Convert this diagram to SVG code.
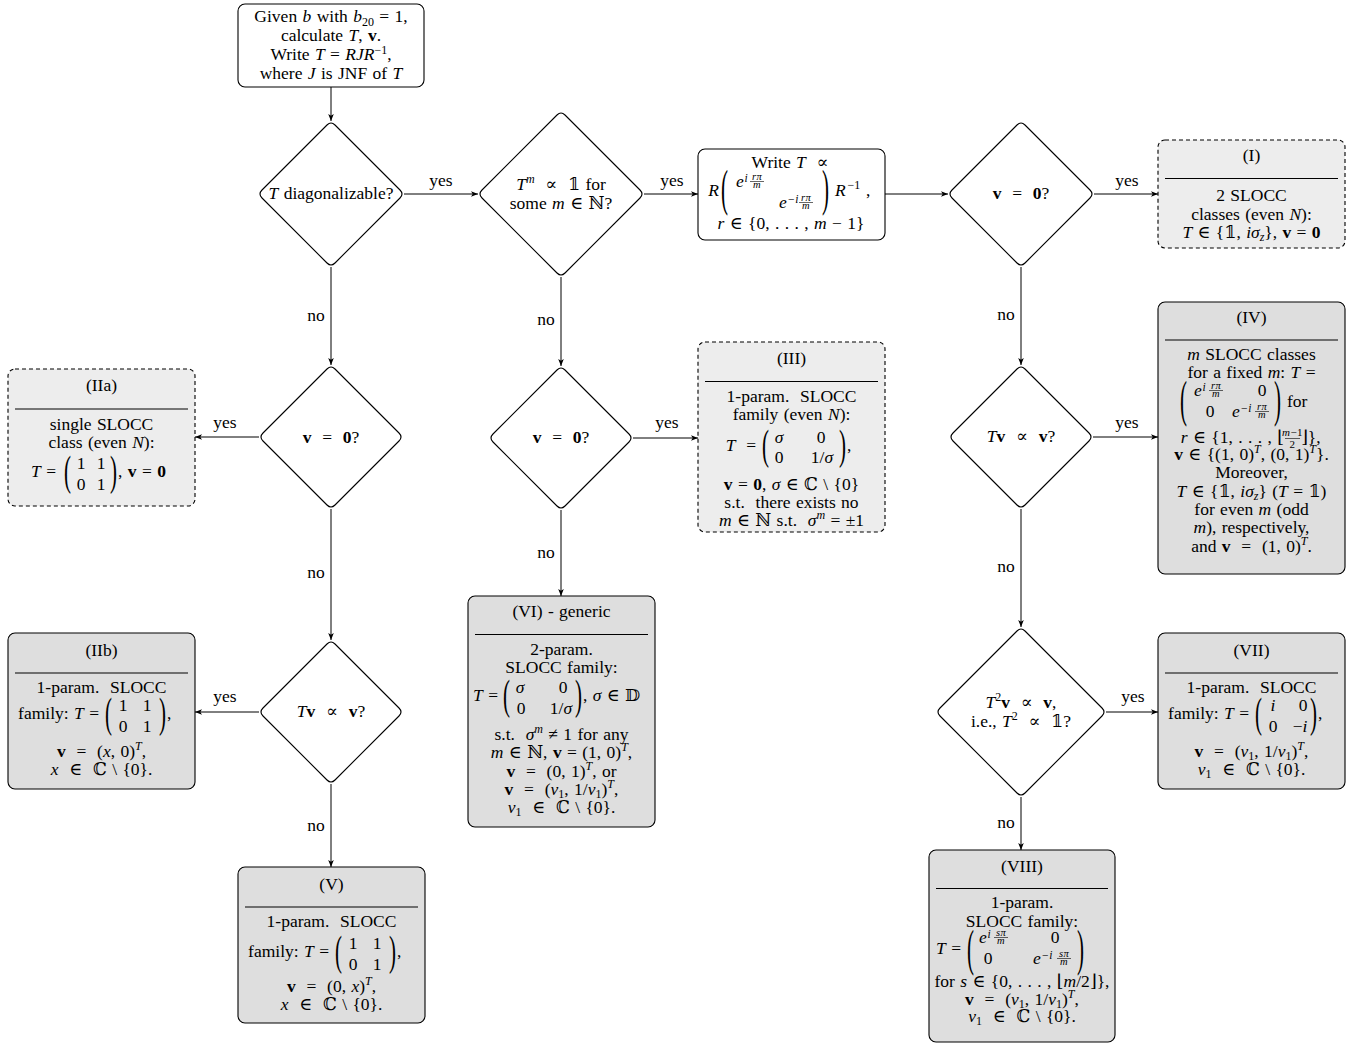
<svg xmlns="http://www.w3.org/2000/svg" width="1363" height="1045" viewBox="0 0 1363 1045">
<style>
text{font-family:"Liberation Serif","DejaVu Serif",serif;font-size:17.5px;word-spacing:1px;fill:#000}
.c{text-anchor:middle}
.e{text-anchor:end}
.i{font-style:italic}
.b{font-weight:bold}
.sm{font-size:12px}
.ss{font-size:11.5px}
.fr{font-size:10.5px;text-anchor:middle;font-style:italic;letter-spacing:0.4px}
.box{stroke:#000;stroke-width:1.1}
.lt{fill:#ededed}
.dk{fill:#dedede}
.wh{fill:#fff}
.dash{stroke-dasharray:4,3}
.rule{stroke:#000;stroke-width:1}
.bar{stroke:#000;stroke-width:0.6}
.dia{fill:#fff;stroke:#000;stroke-width:1.1}
.edge{stroke:#000;stroke-width:1;fill:none;marker-end:url(#ah)}
</style>
<defs>
<marker id="ah" viewBox="0 0 10 10" refX="10" refY="5" markerWidth="7" markerHeight="7" orient="auto" markerUnits="userSpaceOnUse"><path d="M0,1 L10,5 L0,9 L2.5,5 Z" fill="#000"/></marker>
</defs>
<rect width="1363" height="1045" fill="#fff"/>

<g id="connectors">
<path class="edge" d="M331 87 V121"/>
<path class="edge" d="M404 194 H478"/>
<path class="edge" d="M644 194 H698"/>
<path class="edge" d="M885 194 H948"/>
<path class="edge" d="M1094 194 H1158"/>
<path class="edge" d="M331 267 V365"/>
<path class="edge" d="M259 437 H195"/>
<path class="edge" d="M331 509 V640"/>
<path class="edge" d="M259 712 H195"/>
<path class="edge" d="M331 784 V867"/>
<path class="edge" d="M561 277 V366"/>
<path class="edge" d="M633 438 H698"/>
<path class="edge" d="M561 510 V596"/>
<path class="edge" d="M1021 267 V365"/>
<path class="edge" d="M1093 437 H1158"/>
<path class="edge" d="M1021 509 V627"/>
<path class="edge" d="M1106 712 H1158"/>
<path class="edge" d="M1021 797 V850"/>
<text class="c" x="441" y="186">yes</text>
<text class="c" x="672" y="186">yes</text>
<text class="c" x="1127" y="186">yes</text>
<text class="c" x="225" y="428">yes</text>
<text class="c" x="667" y="428">yes</text>
<text class="c" x="1127" y="428">yes</text>
<text class="c" x="225" y="702">yes</text>
<text class="c" x="1133" y="702">yes</text>
<text class="c" x="316" y="321">no</text>
<text class="c" x="316" y="578">no</text>
<text class="c" x="316" y="831">no</text>
<text class="c" x="546" y="325">no</text>
<text class="c" x="546" y="558">no</text>
<text class="c" x="1006" y="320">no</text>
<text class="c" x="1006" y="572">no</text>
<text class="c" x="1006" y="828">no</text>
</g>

<g id="start">
<rect class="box wh" x="238" y="4" width="186" height="83" rx="7"/>
<text class="c" x="331" y="22">Given <tspan class="i">b</tspan> with <tspan class="i">b</tspan><tspan class="sm" dy="4">20</tspan><tspan dy="-4"> = 1,</tspan></text>
<text class="c" x="331" y="41">calculate <tspan class="i">T</tspan>, <tspan class="b">v</tspan>.</text>
<text class="c" x="331" y="60">Write <tspan class="i">T</tspan> = <tspan class="i">RJR</tspan><tspan class="sm" dy="-6">−1</tspan><tspan dy="6">,</tspan></text>
<text class="c" x="331" y="79">where <tspan class="i">J</tspan> is JNF of <tspan class="i">T</tspan></text>
</g>

<g id="d1">
<path class="dia" d="M327 125 Q331 121 335 125 L400 190 Q404 194 400 198 L335 263 Q331 267 327 263 L262 198 Q258 194 262 190 Z"/>
<text class="c" x="331" y="199"><tspan class="i">T</tspan> diagonalizable?</text>
</g>

<g id="d2">
<path class="dia" d="M557 115 Q561 111 565 115 L640 190 Q644 194 640 198 L565 273 Q561 277 557 273 L482 198 Q478 194 482 190 Z"/>
<text class="c" x="561" y="190"><tspan class="i">T</tspan><tspan class="sm i" dy="-7">m</tspan><tspan dy="7">&#160; ∝ &#160;𝟙 for</tspan></text>
<text class="c" x="561" y="209">some <tspan class="i">m</tspan> ∈ ℕ?</text>
</g>

<g id="writeT">
<rect class="box wh" x="698" y="149" width="187" height="91" rx="7"/>
<text class="c" x="790" y="168">Write <tspan class="i">T</tspan>&#160; ∝</text>
<text class="i e" x="719" y="196">R</text>
<text transform="translate(721,204.5) scale(1.2,2.9)">(</text>
<text class="i" x="736" y="187">e</text>
<text class="i ss" x="744.5" y="181.5">i</text>
<text class="fr" x="757" y="179.5">rπ</text>
<line class="bar" x1="750" y1="181.5" x2="764" y2="181.5"/>
<text class="fr" x="757" y="187.5">m</text>
<text class="i" x="779" y="208">e</text>
<text class="i ss" x="787.5" y="202.5">−i</text>
<text class="fr" x="806" y="200.5">rπ</text>
<line class="bar" x1="799" y1="202.5" x2="813" y2="202.5"/>
<text class="fr" x="806" y="208.5">m</text>
<text transform="translate(822,204.5) scale(1.2,2.9)">)</text>
<text class="i" x="835" y="196">R</text>
<text class="sm" x="847.5" y="189">−1</text>
<text x="866" y="196">,</text>
<text class="c" x="791" y="229"><tspan class="i">r</tspan> ∈ {0, . . . , <tspan class="i">m</tspan> − 1}</text>
</g>

<g id="d3">
<path class="dia" d="M1017 125 Q1021 121 1025 125 L1090 190 Q1094 194 1090 198 L1025 263 Q1021 267 1017 263 L952 198 Q948 194 952 190 Z"/>
<text class="c" x="1021" y="199"><tspan class="b">v</tspan>&#160; = &#160;<tspan class="b">0</tspan>?</text>
</g>

<g id="boxI">
<rect class="box lt dash" x="1158" y="140" width="187" height="108" rx="7"/>
<text class="c" x="1251.5" y="161">(I)</text>
<line class="rule" x1="1165" y1="178.5" x2="1338" y2="178.5"/>
<text class="c" x="1251.5" y="201">2 SLOCC</text>
<text class="c" x="1251.5" y="220">classes (even <tspan class="i">N</tspan>):</text>
<text class="c" x="1251.5" y="238"><tspan class="i">T</tspan> ∈ {𝟙, <tspan class="i">iσ</tspan><tspan class="sm i" dy="3">z</tspan><tspan dy="-3">}, </tspan><tspan class="b">v</tspan> = <tspan class="b">0</tspan></text>
</g>

<g id="d4">
<path class="dia" d="M327 369 Q331 365 335 369 L399 433 Q403 437 399 441 L335 505 Q331 509 327 505 L263 441 Q259 437 263 433 Z"/>
<text class="c" x="331" y="443"><tspan class="b">v</tspan>&#160; = &#160;<tspan class="b">0</tspan>?</text>
</g>

<g id="boxIIa">
<rect class="box lt dash" x="8" y="369" width="187" height="137" rx="7"/>
<text class="c" x="101.5" y="391">(IIa)</text>
<line class="rule" x1="15" y1="409" x2="188" y2="409"/>
<text class="c" x="101.5" y="430">single SLOCC</text>
<text class="c" x="101.5" y="448">class (even <tspan class="i">N</tspan>):</text>
<text class="e" x="56" y="477"><tspan class="i">T</tspan> =</text>
<text transform="translate(64,485.2) scale(1.2,2.45)">(</text>
<text class="c" x="81" y="469">1</text>
<text class="c" x="101" y="469">1</text>
<text class="c" x="81" y="489.5">0</text>
<text class="c" x="101" y="489.5">1</text>
<text transform="translate(110,485.2) scale(1.2,2.45)">)</text>
<text x="118" y="477">, <tspan class="b">v</tspan> = <tspan class="b">0</tspan></text>
</g>

<g id="d5">
<path class="dia" d="M327 644 Q331 640 335 644 L399 708 Q403 712 399 716 L335 780 Q331 784 327 780 L263 716 Q259 712 263 708 Z"/>
<text class="c" x="331" y="717"><tspan class="i">T</tspan><tspan class="b">v</tspan>&#160; ∝ &#160;<tspan class="b">v</tspan>?</text>
</g>

<g id="boxIIb">
<rect class="box dk" x="8" y="633" width="187" height="156" rx="7"/>
<text class="c" x="101.5" y="656">(IIb)</text>
<line class="rule" x1="15" y1="673" x2="188" y2="673"/>
<text class="c" x="101.5" y="693">1-param.&#160; SLOCC</text>
<text class="e" x="99" y="719">family: <tspan class="i">T</tspan> =</text>
<text transform="translate(105,727.2) scale(1.2,2.45)">(</text>
<text class="c" x="123" y="711">1</text>
<text class="c" x="147" y="711">1</text>
<text class="c" x="123" y="731.5">0</text>
<text class="c" x="147" y="731.5">1</text>
<text transform="translate(159,727.2) scale(1.2,2.45)">)</text>
<text x="167" y="719">,</text>
<text class="c" x="101.5" y="757"><tspan class="b">v</tspan>&#160; = &#160;(<tspan class="i">x</tspan>, 0)<tspan class="sm i" dy="-7">T</tspan><tspan dy="7">,</tspan></text>
<text class="c" x="101.5" y="775"><tspan class="i">x</tspan>&#160; ∈ &#160;ℂ \ {0}.</text>
</g>

<g id="boxV">
<rect class="box dk" x="238" y="867" width="187" height="156" rx="7"/>
<text class="c" x="331.5" y="890">(V)</text>
<line class="rule" x1="245" y1="907" x2="418" y2="907"/>
<text class="c" x="331.5" y="927">1-param.&#160; SLOCC</text>
<text class="e" x="329" y="957">family: <tspan class="i">T</tspan> =</text>
<text transform="translate(335,965.2) scale(1.2,2.45)">(</text>
<text class="c" x="353" y="949">1</text>
<text class="c" x="377" y="949">1</text>
<text class="c" x="353" y="969.5">0</text>
<text class="c" x="377" y="969.5">1</text>
<text transform="translate(389,965.2) scale(1.2,2.45)">)</text>
<text x="397" y="957">,</text>
<text class="c" x="331.5" y="992"><tspan class="b">v</tspan>&#160; = &#160;(0, <tspan class="i">x</tspan>)<tspan class="sm i" dy="-7">T</tspan><tspan dy="7">,</tspan></text>
<text class="c" x="331.5" y="1010"><tspan class="i">x</tspan>&#160; ∈ &#160;ℂ \ {0}.</text>
</g>

<g id="d6">
<path class="dia" d="M557 370 Q561 366 565 370 L629 434 Q633 438 629 442 L565 506 Q561 510 557 506 L493 442 Q489 438 493 434 Z"/>
<text class="c" x="561" y="443"><tspan class="b">v</tspan>&#160; = &#160;<tspan class="b">0</tspan>?</text>
</g>

<g id="boxIII">
<rect class="box lt dash" x="698" y="342" width="187" height="190" rx="7"/>
<text class="c" x="791.5" y="364">(III)</text>
<line class="rule" x1="705" y1="381.5" x2="878" y2="381.5"/>
<text class="c" x="791.5" y="401.5">1-param.&#160; SLOCC</text>
<text class="c" x="791.5" y="420">family (even <tspan class="i">N</tspan>):</text>
<text class="e" x="756" y="450.5"><tspan class="i">T</tspan>&#160; =</text>
<text transform="translate(762,458.7) scale(1.2,2.45)">(</text>
<text class="c i" x="779" y="442.5">σ</text>
<text class="c" x="821" y="442.5">0</text>
<text class="c" x="779" y="463">0</text>
<text class="c" x="822" y="463">1/<tspan class="i">σ</tspan></text>
<text transform="translate(839,458.7) scale(1.2,2.45)">)</text>
<text x="847" y="450.5">,</text>
<text class="c" x="791.5" y="490"><tspan class="b">v</tspan> = <tspan class="b">0</tspan>, <tspan class="i">σ</tspan> ∈ ℂ \ {0}</text>
<text class="c" x="791.5" y="508">s.t.&#160; there exists no</text>
<text class="c" x="791.5" y="526"><tspan class="i">m</tspan> ∈ ℕ s.t.&#160; <tspan class="i">σ</tspan><tspan class="sm i" dy="-7">m</tspan><tspan dy="7"> = ±1</tspan></text>
</g>

<g id="boxVI">
<rect class="box dk" x="468" y="596" width="187" height="231" rx="7"/>
<text class="c" x="561.5" y="616.5">(VI) - generic</text>
<line class="rule" x1="475" y1="634.5" x2="648" y2="634.5"/>
<text class="c" x="561.5" y="655">2-param.</text>
<text class="c" x="561.5" y="673">SLOCC family:</text>
<text class="e" x="498" y="701"><tspan class="i">T</tspan> =</text>
<text transform="translate(503,709.2) scale(1.2,2.45)">(</text>
<text class="c i" x="520" y="693">σ</text>
<text class="c" x="563" y="693">0</text>
<text class="c" x="521" y="713.5">0</text>
<text class="c" x="561" y="713.5">1/<tspan class="i">σ</tspan></text>
<text transform="translate(575,709.2) scale(1.2,2.45)">)</text>
<text x="583" y="701">, <tspan class="i">σ</tspan> ∈ 𝔻</text>
<text class="c" x="561.5" y="740">s.t.&#160; <tspan class="i">σ</tspan><tspan class="sm i" dy="-7">m</tspan><tspan dy="7"> ≠ 1 for any</tspan></text>
<text class="c" x="561.5" y="758"><tspan class="i">m</tspan> ∈ ℕ, <tspan class="b">v</tspan> = (1, 0)<tspan class="sm i" dy="-7">T</tspan><tspan dy="7">,</tspan></text>
<text class="c" x="561.5" y="777"><tspan class="b">v</tspan>&#160; = &#160;(0, 1)<tspan class="sm i" dy="-7">T</tspan><tspan dy="7">, or</tspan></text>
<text class="c" x="561.5" y="795"><tspan class="b">v</tspan>&#160; = &#160;(<tspan class="i">v</tspan><tspan class="sm" dy="3">1</tspan><tspan dy="-3">, 1/</tspan><tspan class="i">v</tspan><tspan class="sm" dy="3">1</tspan><tspan dy="-3">)</tspan><tspan class="sm i" dy="-7">T</tspan><tspan dy="7">,</tspan></text>
<text class="c" x="561.5" y="813"><tspan class="i">v</tspan><tspan class="sm" dy="3">1</tspan><tspan dy="-3">&#160; ∈ &#160;ℂ \ {0}.</tspan></text>
</g>

<g id="d7">
<path class="dia" d="M1017 369 Q1021 365 1025 369 L1089 433 Q1093 437 1089 441 L1025 505 Q1021 509 1017 505 L953 441 Q949 437 953 433 Z"/>
<text class="c" x="1021" y="442"><tspan class="i">T</tspan><tspan class="b">v</tspan>&#160; ∝ &#160;<tspan class="b">v</tspan>?</text>
</g>

<g id="boxIV">
<rect class="box dk" x="1158" y="302" width="187" height="272" rx="7"/>
<text class="c" x="1251.5" y="323">(IV)</text>
<line class="rule" x1="1165" y1="340" x2="1338" y2="340"/>
<text class="c" x="1251.5" y="360"><tspan class="i">m</tspan> SLOCC classes</text>
<text class="c" x="1251.5" y="378">for a fixed <tspan class="i">m</tspan>: <tspan class="i">T</tspan> =</text>
<text transform="translate(1180,415.5) scale(1.2,2.9)">(</text>
<text class="i" x="1194" y="396">e</text>
<text class="i ss" x="1202.5" y="390.5">i</text>
<text class="fr" x="1216" y="388.5">rπ</text>
<line class="bar" x1="1209" y1="390.5" x2="1223" y2="390.5"/>
<text class="fr" x="1216" y="396.5">m</text>
<text class="c" x="1262" y="396">0</text>
<text class="c" x="1210" y="417">0</text>
<text class="i" x="1232" y="417">e</text>
<text class="i ss" x="1240.5" y="411.5">−i</text>
<text class="fr" x="1262" y="409.5">rπ</text>
<line class="bar" x1="1255" y1="411.5" x2="1269" y2="411.5"/>
<text class="fr" x="1262" y="417.5">m</text>
<text transform="translate(1274,415.5) scale(1.2,2.9)">)</text>
<text x="1287" y="407">for</text>
<text class="e" x="1284" y="443"><tspan class="i">r</tspan> ∈ {1, . . . , ⌊</text>
<text class="fr" x="1292.5" y="436" style="font-size:11px"><tspan class="i">m</tspan><tspan style="font-style:normal">−1</tspan></text>
<line class="bar" x1="1285" y1="438.5" x2="1300" y2="438.5"/>
<text class="fr" x="1292.5" y="447.5" style="font-size:11px;font-style:normal">2</text>
<text x="1301" y="443">⌋},</text>
<text class="c" x="1251.5" y="460"><tspan class="b">v</tspan> ∈ {(1, 0)<tspan class="sm i" dy="-7">T</tspan><tspan dy="7">, (0, 1)</tspan><tspan class="sm i" dy="-7">T</tspan><tspan dy="7">}.</tspan></text>
<text class="c" x="1251.5" y="478">Moreover,</text>
<text class="c" x="1251.5" y="497"><tspan class="i">T</tspan> ∈ {𝟙, <tspan class="i">iσ</tspan><tspan class="sm i" dy="3">z</tspan><tspan dy="-3">} (</tspan><tspan class="i">T</tspan> = 𝟙)</text>
<text class="c" x="1251.5" y="515">for even <tspan class="i">m</tspan> (odd</text>
<text class="c" x="1251.5" y="533"><tspan class="i">m</tspan>), respectively,</text>
<text class="c" x="1251.5" y="552">and <tspan class="b">v</tspan>&#160; = &#160;(1, 0)<tspan class="sm i" dy="-7">T</tspan><tspan dy="7">.</tspan></text>
</g>

<g id="d8">
<path class="dia" d="M1017 631 Q1021 627 1025 631 L1102 708 Q1106 712 1102 716 L1025 793 Q1021 797 1017 793 L940 716 Q936 712 940 708 Z"/>
<text class="c" x="1021" y="708"><tspan class="i">T</tspan><tspan class="sm" dy="-7">2</tspan><tspan class="b" dy="7">v</tspan>&#160; ∝ &#160;<tspan class="b">v</tspan>,</text>
<text class="c" x="1021" y="727">i.e., <tspan class="i">T</tspan><tspan class="sm" dy="-7">2</tspan><tspan dy="7">&#160; ∝ &#160;𝟙?</tspan></text>
</g>

<g id="boxVII">
<rect class="box dk" x="1158" y="633" width="187" height="156" rx="7"/>
<text class="c" x="1251.5" y="656">(VII)</text>
<line class="rule" x1="1165" y1="673" x2="1338" y2="673"/>
<text class="c" x="1251.5" y="693">1-param.&#160; SLOCC</text>
<text class="e" x="1249" y="719">family: <tspan class="i">T</tspan> =</text>
<text transform="translate(1255,727.2) scale(1.2,2.45)">(</text>
<text class="c i" x="1273" y="711">i</text>
<text class="c" x="1303" y="711">0</text>
<text class="c" x="1273" y="731.5">0</text>
<text class="c" x="1300" y="731.5">−<tspan class="i">i</tspan></text>
<text transform="translate(1310,727.2) scale(1.2,2.45)">)</text>
<text x="1318" y="719">,</text>
<text class="c" x="1251.5" y="757"><tspan class="b">v</tspan>&#160; = &#160;(<tspan class="i">v</tspan><tspan class="sm" dy="3">1</tspan><tspan dy="-3">, 1/</tspan><tspan class="i">v</tspan><tspan class="sm" dy="3">1</tspan><tspan dy="-3">)</tspan><tspan class="sm i" dy="-7">T</tspan><tspan dy="7">,</tspan></text>
<text class="c" x="1251.5" y="775"><tspan class="i">v</tspan><tspan class="sm" dy="3">1</tspan><tspan dy="-3">&#160; ∈ &#160;ℂ \ {0}.</tspan></text>
</g>

<g id="boxVIII">
<rect class="box dk" x="929" y="850" width="186" height="192" rx="7"/>
<text class="c" x="1022" y="872">(VIII)</text>
<line class="rule" x1="936" y1="888.5" x2="1108" y2="888.5"/>
<text class="c" x="1022" y="908">1-param.</text>
<text class="c" x="1022" y="926.5">SLOCC family:</text>
<text class="e" x="961" y="954"><tspan class="i">T</tspan> =</text>
<text transform="translate(967,964.5) scale(1.2,2.9)">(</text>
<text class="i" x="979" y="943">e</text>
<text class="i ss" x="987.5" y="937.5">i</text>
<text class="fr" x="1001" y="935.5">sπ</text>
<line class="bar" x1="994" y1="937.5" x2="1008" y2="937.5"/>
<text class="fr" x="1001" y="943.5">m</text>
<text class="c" x="1055" y="943">0</text>
<text class="c" x="988" y="964">0</text>
<text class="i" x="1033" y="964">e</text>
<text class="i ss" x="1041.5" y="958.5">−i</text>
<text class="fr" x="1064" y="956.5">sπ</text>
<line class="bar" x1="1057" y1="958.5" x2="1071" y2="958.5"/>
<text class="fr" x="1064" y="964.5">m</text>
<text transform="translate(1077,964.5) scale(1.2,2.9)">)</text>
<text class="c" x="1022" y="987">for <tspan class="i">s</tspan> ∈ {0, . . . , ⌊<tspan class="i">m</tspan>/2⌋},</text>
<text class="c" x="1022" y="1005"><tspan class="b">v</tspan>&#160; = &#160;(<tspan class="i">v</tspan><tspan class="sm" dy="3">1</tspan><tspan dy="-3">, 1/</tspan><tspan class="i">v</tspan><tspan class="sm" dy="3">1</tspan><tspan dy="-3">)</tspan><tspan class="sm i" dy="-7">T</tspan><tspan dy="7">,</tspan></text>
<text class="c" x="1022" y="1022"><tspan class="i">v</tspan><tspan class="sm" dy="3">1</tspan><tspan dy="-3">&#160; ∈ &#160;ℂ \ {0}.</tspan></text>
</g>
</svg>
